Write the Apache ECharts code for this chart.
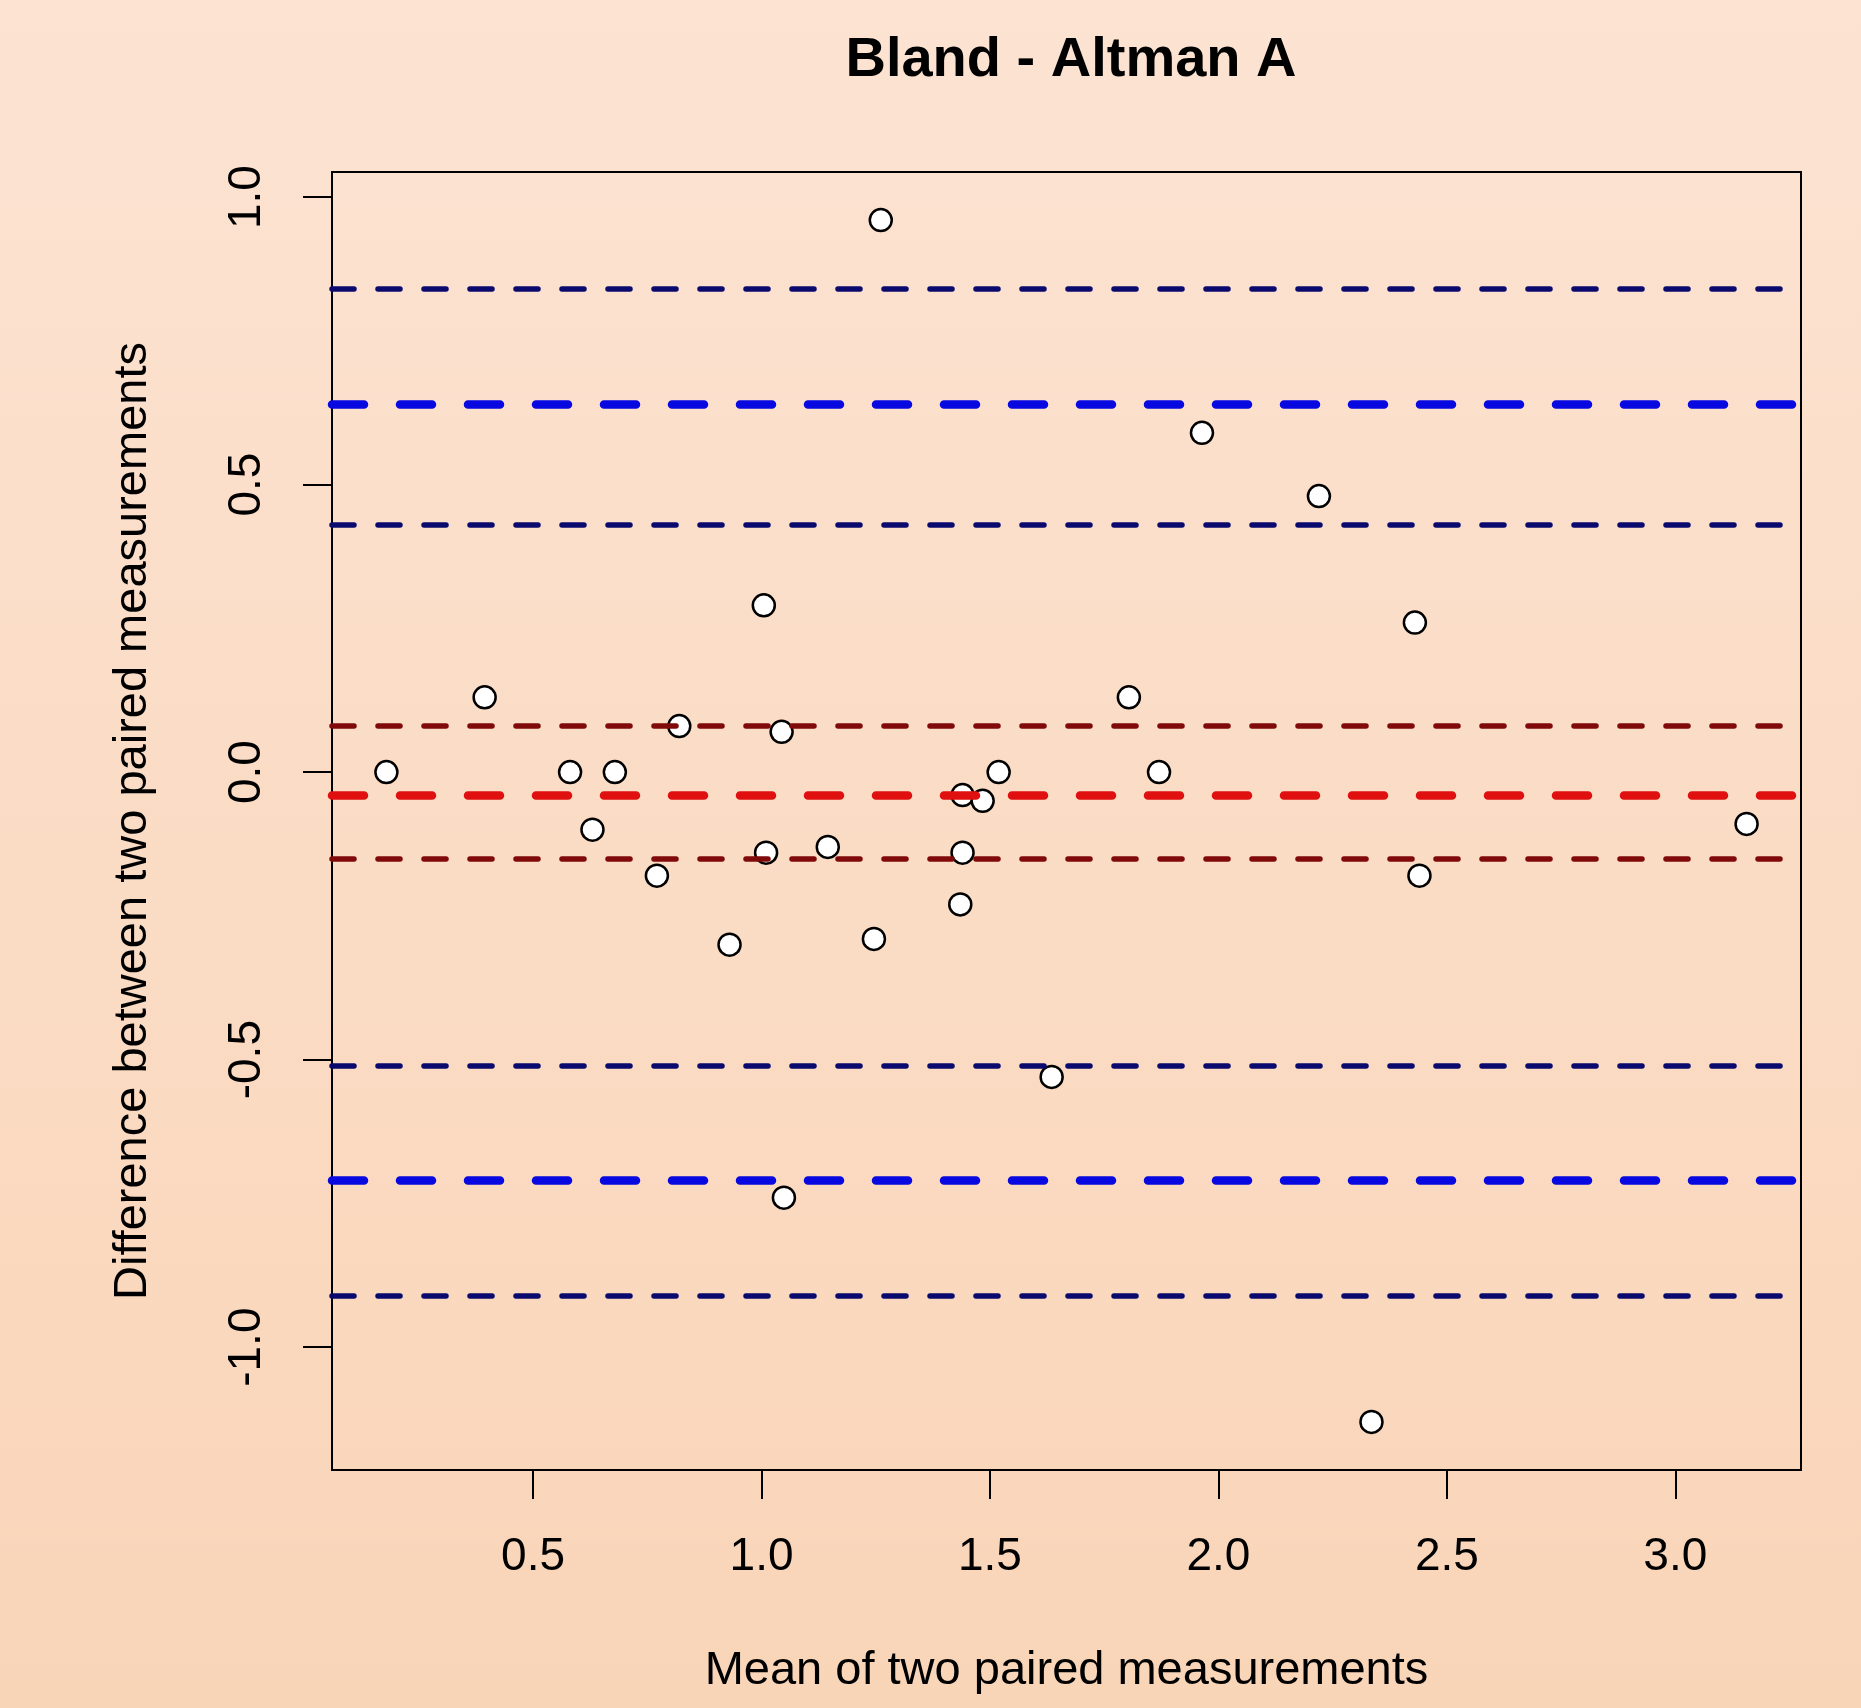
<!DOCTYPE html>
<html>
<head>
<meta charset="utf-8">
<title>Bland - Altman A</title>
<script src="https://cdn.jsdelivr.net/npm/echarts@6/dist/echarts.min.js"></script>
<style>
  html, body { margin: 0; padding: 0; }
  #chart { width: 1861px; height: 1708px; }
</style>
</head>
<body>
<div id="chart"></div>
<script>
// mean of the two measurements
const meanValues = [
  1.261, 1.005, 0.394, 0.820, 1.044, 0.179, 0.581, 0.679, 1.519, 1.440,
  1.484, 1.964, 2.220, 2.430, 1.804, 1.870, 0.630, 1.010, 1.145, 1.440,
  0.771, 1.435, 0.930, 1.246, 1.635, 1.049, 2.440, 2.335, 3.156
];
// difference between the two measurements
const diffValues = [
  0.96, 0.29, 0.13, 0.08, 0.07, 0.00, 0.00, 0.00, 0.00, -0.04,
  -0.05, 0.59, 0.48, 0.26, 0.13, 0.00, -0.10, -0.14, -0.13, -0.14,
  -0.18, -0.23, -0.30, -0.29, -0.53, -0.74, -0.18, -1.13, -0.09
];

// horizontal reference lines: bias, limits of agreement and their CIs
const biasLine = [-0.0386];
const biasCiLines = [0.0774, -0.155];
const loaLines = [0.635, -0.712];
const loaCiLines = [0.8375, 0.4332, -0.51, -0.914];

const xTicks = [0.5, 1.0, 1.5, 2.0, 2.5, 3.0];
const yTicks = [-1.0, -0.5, 0.0, 0.5, 1.0];

// R-style axis range: data range plus 4% on each side
function padRange(arr) {
  const lo = Math.min(...arr), hi = Math.max(...arr);
  const pad = (hi - lo) * 0.04;
  return [lo - pad, hi + pad];
}
const xRange = padRange(meanValues);
const yRange = padRange(diffValues);

const FONT = "'Liberation Sans', Arial, sans-serif";

function hLines(values, color, width, dash) {
  return values.map(v => ({
    yAxis: v,
    lineStyle: { color: color, width: width, type: dash, cap: 'round' }
  }));
}

const chart = echarts.init(document.getElementById('chart'));

chart.setOption({
  backgroundColor: {
    type: 'linear', x: 0, y: 0, x2: 0, y2: 1,
    colorStops: [
      { offset: 0, color: '#fce3d2' },
      { offset: 1, color: '#f9d5b8' }
    ]
  },
  animation: false,
  title: {
    text: 'Bland - Altman A',
    left: 1066,
    top: 28,
    textAlign: 'center',
    textStyle: { fontFamily: FONT, fontSize: 56, fontWeight: 'bold', color: '#000', lineHeight: 56 }
  },
  grid: {
    left: 332, top: 172, right: 60, bottom: 238,
    show: true, borderColor: '#000', borderWidth: 2, backgroundColor: 'transparent'
  },
  xAxis: {
    type: 'value',
    min: xRange[0],
    max: xRange[1],
    name: 'Mean of two paired measurements',
    nameLocation: 'middle',
    nameGap: 178,
    nameTextStyle: { fontFamily: FONT, fontSize: 47, color: '#000', lineHeight: 47 },
    axisLine: { show: false, onZero: false },
    splitLine: { show: false },
    axisTick: { show: true, length: 29, customValues: xTicks, lineStyle: { color: '#000', width: 2 } },
    axisLabel: {
      customValues: xTicks,
      margin: 64,
      fontFamily: FONT, fontSize: 46, color: '#000', lineHeight: 46,
      formatter: v => v.toFixed(1)
    }
  },
  yAxis: {
    type: 'value',
    min: yRange[0],
    max: yRange[1],
    name: 'Difference between two paired measurements',
    nameLocation: 'middle',
    nameGap: 175,
    nameTextStyle: { fontFamily: FONT, fontSize: 47, color: '#000', lineHeight: 47 },
    axisLine: { show: false, onZero: false },
    splitLine: { show: false },
    axisTick: { show: true, length: 29, customValues: yTicks, lineStyle: { color: '#000', width: 2 } },
    axisLabel: {
      customValues: yTicks,
      rotate: 90,
      margin: 62,
      fontFamily: FONT, fontSize: 46, color: '#000', lineHeight: 46,
      formatter: v => v.toFixed(1)
    }
  },
  series: [
    {
      type: 'scatter',
      z: 2,
      symbol: 'circle',
      symbolSize: 22,
      itemStyle: { color: '#ffffff', borderColor: '#000', borderWidth: 2.5, opacity: 1 },
      data: meanValues.map((x, i) => [x, diffValues[i]])
    },
    {
      type: 'scatter',
      z: 3,
      data: [],
      markLine: {
        silent: true,
        symbol: ['none', 'none'],
        label: { show: false },
        emphasis: { disabled: true },
        animation: false,
        data: [
          ...hLines(loaCiLines, '#0a0a6e', 5.5, [22, 24]),
          ...hLines(loaLines, '#0808e0', 8.5, [32, 36]),
          ...hLines(biasCiLines, '#800a0a', 5.5, [22, 24]),
          ...hLines(biasLine, '#e01010', 8.5, [32, 36])
        ]
      }
    }
  ]
});
</script>
</body>
</html>
